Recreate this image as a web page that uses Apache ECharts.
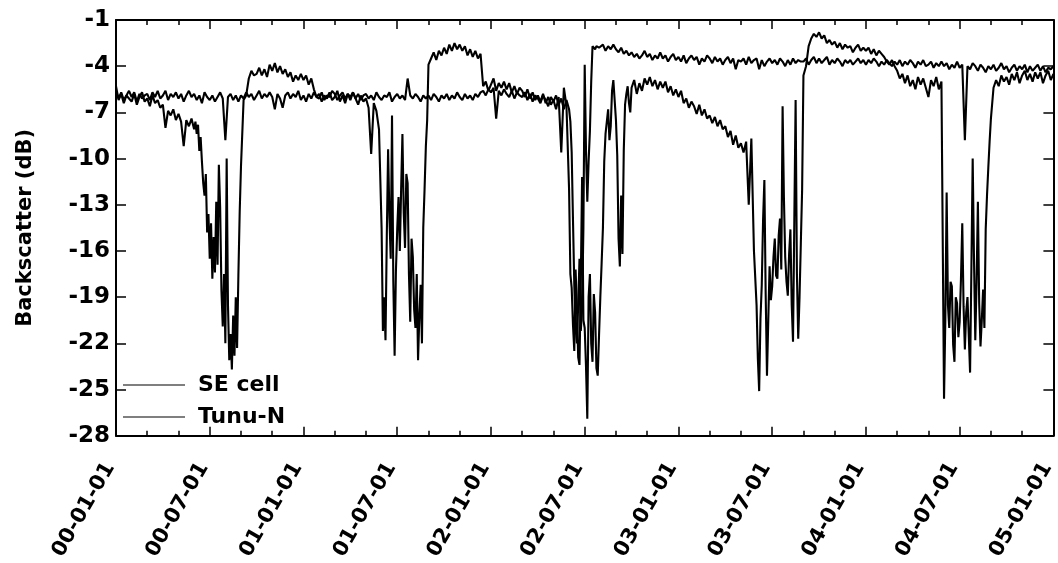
<!DOCTYPE html>
<html><head><meta charset="utf-8">
<script src="https://cdn.jsdelivr.net/npm/echarts@6/dist/echarts.min.js"></script>
<style>html,body{margin:0;padding:0;background:#fff}#c{width:1058px;height:563px}</style>
</head><body><div id="c"></div>
<script>
// Each year: 12 monthly rows of readings, spread evenly over that month.
// x axis = months since 2000-01-01.
const tickLabels = ['00-01-01','00-07-01','01-01-01','01-07-01','02-01-01','02-07-01','03-01-01','03-07-01','04-01-01','04-07-01','05-01-01'];
const seriesNames = ['SE cell', 'Tunu-N'];

const seCell2000 = [
 [-5.3,-6.2,-5.8,-6.4,-5.9,-6.1],
 [-6.3,-5.8,-6.5,-6.0,-5.7,-6.3],
 [-6.1,-6.6,-5.9,-6.4,-6.2,-6.7],
 [-6.5,-8.0,-6.9,-7.2,-6.8,-7.5],
 [-7.1,-7.6,-9.2,-7.5,-7.9,-7.4],
 [-8.1,-7.6,-8.4,-7.8,-9.5,-8.6,-10.2,-11.6,-12.4,-11.0,-14.8,-13.6],
 [-16.5,-14.2,-17.8,-15.1,-17.4,-12.8,-16.9,-10.4,-13.2,-18.6,-20.9,-17.5],
 [-22.0,-10.0,-19.5,-23.1,-21.4,-23.7,-20.2,-22.8,-19.0,-22.3,-17.6,-13.5],
 [-10.5,-6.2,-5.9,-4.8,-4.3,-4.6],
 [-4.5,-4.1,-4.6,-4.2,-4.7,-3.9],
 [-4.3,-3.8,-4.4,-4.0,-4.5,-4.2],
 [-4.7,-4.4,-5.0,-4.6,-4.9,-4.5]];
const seCell2001 = [
 [-4.9,-4.6,-5.2,-4.8,-5.5,-6.0],
 [-5.8,-6.3,-5.9,-6.1,-5.7,-6.2],
 [-6.0,-5.6,-6.3,-5.9,-6.4,-5.8],
 [-6.2,-5.7,-6.1,-6.5,-5.9,-6.3],
 [-6.1,-6.7,-9.7,-6.4,-6.9,-8.1],
 [-14.5,-21.2,-19.0,-21.8,-15.0,-9.4,-13.8,-16.5,-7.2,-18.0,-22.8,-17.3],
 [-14.6,-12.5,-16.0,-12.0,-8.4,-13.5,-15.8,-11.0,-11.6,-17.5,-20.6,-15.2],
 [-16.4,-19.8,-21.0,-17.5,-23.1,-20.2,-18.2,-22.0,-14.5,-12.0,-9.2,-7.5],
 [-3.9,-3.5,-3.1,-3.6,-3.0,-3.3],
 [-2.8,-3.2,-2.6,-3.0,-2.5,-2.9],
 [-2.6,-3.0,-2.7,-3.3,-2.9,-3.4],
 [-3.0,-3.5,-3.2,-5.3,-5.0,-5.6]];
const seCell2002 = [
 [-5.2,-4.8,-5.6,-5.1,-5.4,-5.0],
 [-5.5,-5.1,-5.7,-5.3,-5.8,-5.4],
 [-5.6,-6.0,-5.5,-6.1,-5.7,-6.2],
 [-5.9,-6.3,-5.8,-6.4,-6.0,-6.5],
 [-6.2,-6.8,-6.0,-9.6,-5.4,-6.6],
 [-12.0,-17.5,-18.4,-20.8,-22.5,-17.2,-19.6,-22.9,-23.4,-18.0,-11.2,-20.5],
 [-21.0,-23.5,-26.9,-19.0,-17.5,-22.0,-23.2,-18.8,-20.0,-23.6,-24.1,-21.5],
 [-19.0,-16.8,-14.5,-10.2,-8.4,-7.6,-6.8,-8.8,-7.9,-5.6,-4.9,-6.2],
 [-7.5,-9.8,-15.2,-17.0,-12.4,-16.2,-9.5,-6.5,-5.8,-5.3,-6.4,-7.0],
 [-5.4,-4.9,-5.8,-5.1,-5.6,-4.8],
 [-5.2,-4.7,-5.3,-4.9,-5.5,-5.0],
 [-5.4,-5.0,-5.7,-5.3,-5.9,-5.5]];
const seCell2003 = [
 [-6.0,-5.6,-6.4,-6.1,-6.7,-6.3],
 [-6.6,-7.1,-6.5,-7.2,-6.8,-7.4],
 [-7.2,-7.7,-7.3,-7.9,-7.5,-8.1],
 [-7.9,-8.6,-8.2,-9.1,-8.5,-9.3],
 [-9.0,-9.6,-8.9,-13.0,-8.7,-16.0],
 [-19.5,-23.0,-25.1,-20.4,-18.2,-14.0,-11.4,-18.8,-24.1,-20.5,-17.0,-19.2],
 [-18.3,-16.4,-15.2,-17.6,-17.8,-15.0,-13.9,-17.2,-6.6,-12.5,-16.4,-18.0],
 [-18.9,-16.2,-14.6,-19.5,-21.9,-14.0,-6.2,-17.5,-21.7,-19.0,-15.5,-12.0],
 [-4.6,-4.0,-2.7,-2.2,-1.9,-2.1],
 [-1.8,-2.2,-2.0,-2.5,-2.3,-2.6],
 [-2.4,-2.8,-2.5,-2.9,-2.6,-2.8],
 [-2.7,-3.1,-2.8,-2.6,-3.0,-2.8]];
const seCell2004 = [
 [-3.0,-2.8,-3.2,-2.9,-3.3,-3.0],
 [-3.2,-3.4,-3.7,-3.9,-3.6,-4.0],
 [-4.3,-4.8,-4.5,-5.1,-4.6,-5.3],
 [-4.9,-5.5,-4.7,-5.2,-4.8,-5.4],
 [-6.0,-4.9,-5.3,-4.7,-5.5,-5.0],
 [-25.6,-20.4,-12.2,-19.5,-21.0,-18.0,-18.3,-22.1,-23.2,-19.0,-19.4,-21.6],
 [-20.6,-17.8,-14.2,-19.6,-22.4,-20.0,-19.0,-21.5,-23.9,-17.2,-10.0,-16.5],
 [-21.8,-18.0,-12.8,-19.4,-22.2,-20.5,-18.5,-21.0,-14.6,-12.4,-10.6,-8.9],
 [-7.4,-5.4,-4.9,-5.3,-4.6,-5.0],
 [-4.7,-5.2,-4.5,-4.9,-4.4,-5.1],
 [-4.6,-4.3,-4.9,-4.5,-5.0,-4.4],
 [-4.8,-4.4,-5.1,-4.6,-4.3,-4.9]];
const seCellJan2005 = -4.5;

const tunuN2000 = [
 [-5.6,-6.1,-5.7,-6.2,-5.9,-5.6],
 [-6.0,-5.7,-6.3,-5.8,-6.1,-5.9],
 [-5.8,-6.2,-5.7,-6.0,-5.6,-6.1],
 [-5.9,-5.6,-6.2,-5.8,-6.0,-5.7],
 [-6.1,-5.8,-6.3,-5.9,-5.6,-6.0],
 [-5.8,-6.2,-5.9,-6.4,-5.7,-6.0],
 [-6.2,-5.9,-6.3,-6.0,-5.7,-6.1],
 [-8.8,-6.0,-5.8,-6.2,-5.9,-6.3],
 [-5.9,-6.1,-5.7,-6.0,-5.8,-6.2],
 [-5.9,-5.6,-6.1,-5.8,-6.0,-5.7],
 [-6.0,-6.8,-5.8,-6.1,-6.7,-5.9],
 [-5.7,-6.1,-5.8,-6.0,-5.6,-6.2]];
const tunuN2001 = [
 [-5.9,-6.3,-5.8,-6.1,-5.7,-6.0],
 [-6.1,-5.7,-6.2,-5.9,-6.0,-5.6],
 [-5.8,-6.2,-5.9,-5.7,-6.1,-5.8],
 [-6.0,-5.7,-6.1,-5.8,-6.2,-5.9],
 [-5.8,-6.1,-5.9,-6.2,-5.7,-6.0],
 [-6.2,-5.9,-6.0,-5.7,-6.3,-6.0],
 [-5.8,-6.1,-5.9,-6.2,-4.8,-5.9],
 [-6.1,-5.8,-6.0,-6.3,-5.9,-6.1],
 [-5.9,-6.2,-5.8,-6.0,-6.3,-5.9],
 [-6.1,-5.8,-6.2,-5.9,-6.1,-5.7],
 [-6.0,-6.2,-5.8,-6.1,-5.9,-6.2],
 [-5.8,-6.0,-5.7,-5.6,-5.9,-5.5]];
const tunuN2002 = [
 [-5.7,-5.4,-7.4,-5.6,-5.9,-5.5],
 [-5.8,-6.0,-5.6,-6.1,-5.7,-5.9],
 [-6.0,-5.7,-6.2,-5.8,-6.3,-5.9],
 [-6.1,-6.4,-5.9,-6.2,-6.6,-6.0],
 [-6.3,-5.9,-6.5,-6.1,-6.8,-6.2],
 [-6.8,-7.6,-9.6,-14.0,-18.2,-21.0,-22.0,-19.5,-16.5,-21.2,-19.8,-14.5],
 [-3.9,-9.5,-12.8,-10.2,-8.2,-5.0,-2.7,-2.6,-2.9,-2.7,-2.6,-2.8],
 [-2.8,-2.6,-3.0,-2.7,-2.9,-2.6],
 [-2.9,-3.1,-2.8,-3.2,-3.0,-3.3],
 [-3.1,-3.4,-3.2,-3.5,-3.3,-3.0],
 [-3.4,-3.2,-3.6,-3.3,-3.5,-3.1],
 [-3.5,-3.3,-3.7,-3.4,-3.2,-3.6]];
const tunuN2003 = [
 [-3.4,-3.7,-3.3,-3.8,-3.5,-3.3],
 [-3.6,-3.4,-3.9,-3.5,-3.7,-3.3],
 [-3.5,-3.8,-3.4,-3.7,-3.5,-3.9],
 [-3.6,-3.4,-3.8,-3.5,-4.2,-3.6],
 [-3.7,-3.5,-3.9,-3.4,-3.8,-3.6],
 [-3.5,-4.2,-3.6,-4.0,-3.7,-3.5],
 [-3.8,-3.6,-3.9,-3.5,-3.7,-4.0],
 [-3.6,-3.9,-3.5,-3.8,-3.6,-3.7],
 [-3.7,-3.5,-3.9,-3.6,-3.4,-3.8],
 [-3.5,-3.8,-3.6,-3.4,-3.9,-3.6],
 [-3.8,-3.5,-3.7,-4.0,-3.6,-3.8],
 [-3.6,-3.9,-3.7,-3.5,-3.8,-3.6]];
const tunuN2004 = [
 [-3.9,-3.6,-3.8,-3.5,-3.7,-4.0],
 [-3.7,-3.9,-3.6,-3.8,-4.0,-3.7],
 [-3.9,-3.6,-4.0,-3.7,-3.9,-3.6],
 [-3.8,-4.1,-3.7,-3.9,-3.6,-4.0],
 [-3.9,-3.7,-4.1,-3.8,-4.0,-3.7],
 [-4.0,-3.8,-4.2,-3.9,-4.1,-3.7],
 [-4.1,-3.9,-8.8,-4.0,-4.2,-3.8],
 [-4.0,-4.3,-3.9,-4.1,-4.4,-4.0],
 [-4.2,-3.9,-4.3,-4.1,-3.8,-4.2],
 [-4.0,-4.4,-4.1,-3.9,-4.3,-4.0],
 [-4.2,-3.9,-4.4,-4.0,-4.3,-4.1],
 [-3.9,-4.3,-4.0,-4.4,-4.1,-4.2]];
const tunuNJan2005 = -4.0;

function toPairs(years, last) {
  const out = [];
  years.forEach((months, yi) => months.forEach((row, mi) => row.forEach((v, j) => {
    out.push([yi * 12 + mi + j / row.length, v]);
  })));
  out.push([years.length * 12, last]);
  return out;
}
const seCellData = toPairs([seCell2000, seCell2001, seCell2002, seCell2003, seCell2004], seCellJan2005);
const tunuNData = toPairs([tunuN2000, tunuN2001, tunuN2002, tunuN2003, tunuN2004], tunuNJan2005);

const FONT = 'DejaVu Sans';
const chart = echarts.init(document.getElementById('c'), null, {renderer: 'canvas'});

const xCommon = {
  type: 'value', min: 0, max: 60, interval: 6,
  axisLine: {show: true, onZero: false, lineStyle: {color: '#000', width: 2}},
  axisTick: {show: true, inside: true, length: 9, lineStyle: {color: '#000', width: 1.5}},
  minorTick: {show: true, splitNumber: 3, length: 5, lineStyle: {color: '#000', width: 1.5}},
  splitLine: {show: false}, minorSplitLine: {show: false}
};
const yCommon = {
  type: 'value', min: -28, max: -1, interval: 3,
  axisLine: {show: true, onZero: false, lineStyle: {color: '#000', width: 2}},
  axisTick: {show: true, inside: true, length: 10, lineStyle: {color: '#000', width: 1.5}},
  splitLine: {show: false}
};

chart.setOption({
  animation: false,
  backgroundColor: '#fff',
  grid: {left: 116, right: 3, top: 20, bottom: 127, containLabel: false},
  legend: {
    data: seriesNames, orient: 'vertical', left: 118, top: 368,
    itemWidth: 62, itemHeight: 14, itemGap: 8,
    icon: 'path://M0,6 L62,6 L62,7 L0,7 Z',
    textStyle: {fontFamily: FONT, fontWeight: 'bold', fontSize: 22, color: '#000', lineHeight: 24, padding: [0,0,0,8]}
  },
  xAxis: [
    Object.assign({}, xCommon, {position: 'bottom',
      axisLabel: {show: true, rotate: 60, margin: 18, padding: [0,12,0,0], color: '#000',
        fontFamily: FONT, fontWeight: 'bold', fontSize: 21,
        formatter: v => tickLabels[Math.round(v / 6)] || ''}}),
    Object.assign({}, xCommon, {position: 'top', axisLabel: {show: false}})
  ],
  yAxis: [
    Object.assign({}, yCommon, {position: 'left',
      axisLabel: {show: true, margin: 6, color: '#000', fontFamily: FONT, fontWeight: 'bold', fontSize: 23},
      name: 'Backscatter (dB)', nameLocation: 'middle', nameGap: 80,
      nameTextStyle: {fontFamily: FONT, fontWeight: 'bold', fontSize: 21, color: '#000'}}),
    Object.assign({}, yCommon, {position: 'right', axisLabel: {show: false}})
  ],
  series: [
    {name: seriesNames[0], type: 'line', data: seCellData, showSymbol: false, symbol: 'none',
     lineStyle: {color: '#000', width: 2.1}, itemStyle: {color: '#000'}, xAxisIndex: 0, yAxisIndex: 0},
    {name: seriesNames[1], type: 'line', data: tunuNData, showSymbol: false, symbol: 'none',
     lineStyle: {color: '#000', width: 2.1}, itemStyle: {color: '#000'}, xAxisIndex: 0, yAxisIndex: 0}
  ]
});
</script></body></html>
